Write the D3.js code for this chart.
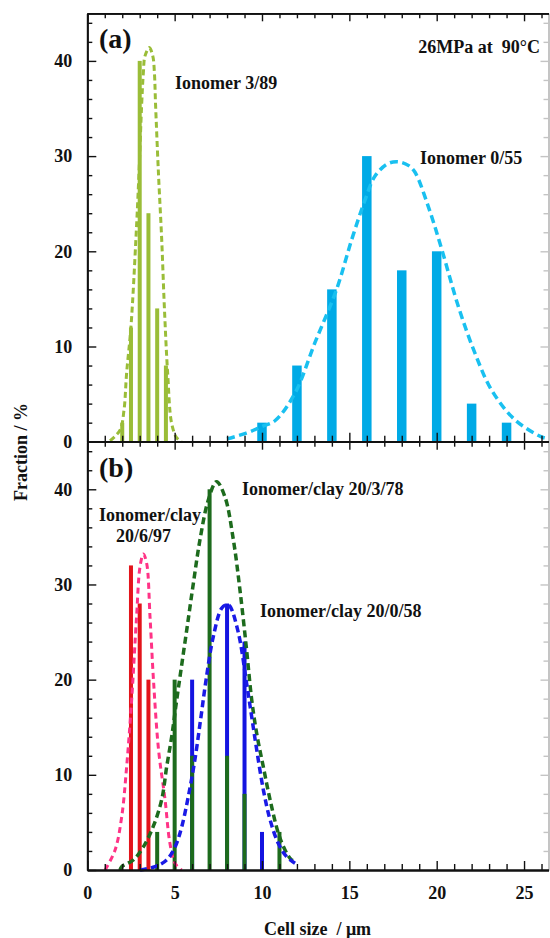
<!DOCTYPE html>
<html>
<head>
<meta charset="utf-8">
<script src="https://cdn.jsdelivr.net/npm/d3@7"></script>
<style>
	body { margin: 0; background: #fff; }
	svg text { font-family: "Liberation Serif", "Times New Roman", serif; font-weight: bold; }
</style>
</head>
<body>
<svg id="histograms" width="550" height="938"></svg>
<script>
// Data: cell size (um) -> fraction (%)

// (a) Ionomer 3/89
const ionomer_3_89_size = [2, 2.5, 3, 3.5, 4, 4.5];
const ionomer_3_89_frac = [2, 12, 40, 24, 14, 8];
const ionomer_3_89_fit = [[1.3, 0.1], [1.87, 1.2], [2.1, 3.3], [2.25, 7.2], [2.5, 12.1], [2.78, 21.2],
	[2.96, 28.3], [3.11, 35.3], [3.21, 38.8], [3.3, 40.5], [3.55, 41.4], [3.75, 40.5], [3.84, 38.8],
	[3.91, 35.3], [4.07, 28.3], [4.26, 21.2], [4.41, 14.2], [4.6, 7.2], [4.83, 1.9], [5.12, 0.4], [5.4, 0]];

// (a) Ionomer 0/55
const ionomer_0_55_size = [10, 12, 14, 16, 18, 20, 22, 24];
const ionomer_0_55_frac = [2, 8, 16, 30, 18, 20, 4, 2];
const ionomer_0_55_fit = [[8.0, 0.3], [9.1, 0.9], [10.0, 1.6], [10.74, 2.2], [11.89, 5.1], [13.03, 10.4],
	[14.27, 16.0], [15.13, 21.2], [15.9, 25.4], [16.47, 27.9], [17.2, 29.2], [17.8, 29.4], [18.4, 29.0],
	[18.76, 28.3], [19.52, 24.7], [20.29, 20.2], [21.24, 14.2], [22.19, 9.3], [23.15, 5.4], [24.48, 2.3],
	[26.0, 0.5], [26.4, 0.3]];

// (b) Ionomer/clay 20/6/97
const clay_20_6_97_size = [2.5, 3, 3.5];
const clay_20_6_97_frac = [32, 28, 20];
const clay_20_6_97_fit = [[1.02, 0], [1.59, 2.1], [1.97, 5.6], [2.25, 10.8], [2.54, 17.9], [2.82, 26.6],
	[3.02, 31.9], [3.21, 33.2], [3.4, 32.2], [3.59, 26.6], [3.8, 19.6], [4.08, 12.6], [4.45, 7.4],
	[4.73, 2.8], [5.02, 0.7], [5.4, 0]];

// (b) Ionomer/clay 20/3/78
const clay_20_3_78_size = [4, 5, 6, 7, 8, 9, 11];
const clay_20_3_78_frac = [4, 20, 12, 40, 12, 8, 4];
const clay_20_3_78_fit = [[1.87, 0], [1.97, 0.35], [2.63, 1.05], [3.2, 2.4], [3.78, 4.6], [4.26, 7.4],
	[4.54, 10.8], [4.83, 14.0], [5.12, 17.9], [5.69, 25.2], [6.07, 30.1], [6.45, 34.7], [6.93, 38.9],
	[7.4, 40.8], [7.88, 39.2], [8.36, 34.7], [8.74, 29.4], [9.12, 23.1], [9.41, 17.9], [9.7, 14.3],
	[10.08, 10.8], [10.46, 7.4], [10.93, 3.9], [11.32, 2.1], [11.7, 1.05], [11.89, 1.0]];

// (b) Ionomer/clay 20/0/58
const clay_20_0_58_size = [6, 8, 9, 10];
const clay_20_0_58_frac = [20, 28, 24, 4];
const clay_20_0_58_fit = [[3.02, 0], [3.88, 0.35], [4.54, 1.05], [5.02, 2.4], [5.4, 4.5], [5.78, 7.7],
	[6.16, 11.6], [6.5, 16], [6.8, 20], [7.21, 24.5], [7.69, 27.5], [8.0, 27.9], [8.17, 27.7], [8.65, 24.9],
	[9.12, 19.6], [9.41, 16.1], [9.7, 12.6], [10.08, 8.4], [10.46, 5.3], [10.93, 2.8], [11.41, 1.4],
	[11.89, 0.7]];

// Ticks
const x_ticks = [0, 5, 10, 15, 20, 25];
const y_ticks = [0, 10, 20, 30, 40];
const x_minor = [1, 2, 3, 4, 6, 7, 8, 9, 11, 12, 13, 14, 16, 17, 18, 19, 21, 22, 23, 24, 26];
const y_minor = [2, 4, 6, 8, 12, 14, 16, 18, 22, 24, 26, 28, 32, 34, 36, 38, 42, 44];

function whenDocumentLoaded(action) {
	if (document.readyState === "loading") {
		document.addEventListener("DOMContentLoaded", action);
	} else {
		action();
	}
}

class HistogramPanel {

	constructor(svg, x, y_top, y_bottom) {
		this.x = x;
		this.y = d3.scaleLinear()
			.domain([0, 45])
			.range([y_bottom, y_top]);
		this.svg = svg;
		this.plot_area = svg.append("g");
	}

	bars(sizes, fractions, color, width) {
		const data = sizes.map((s, i) => ({size: s, frac: fractions[i]}));
		this.plot_area.append("g")
			.selectAll("rect")
			.data(data)
			.enter()
			.append("rect")
				.attr("x", d => this.x(d.size) - width / 2)
				.attr("y", d => this.y(d.frac))
				.attr("width", width)
				.attr("height", d => this.y(0) - this.y(d.frac))
				.attr("fill", color);
	}

	fit(points, color, dash, stroke_width) {
		const line = d3.line()
			.x(d => this.x(d[0]))
			.y(d => this.y(d[1]))
			.curve(d3.curveCatmullRom);
		this.plot_area.append("path")
			.datum(points)
			.attr("d", line)
			.attr("fill", "none")
			.attr("stroke", color)
			.attr("stroke-width", stroke_width)
			.attr("stroke-dasharray", dash);
	}

	axes(show_x_labels) {
		const [x0, x1] = this.x.range();
		const [y0, y1] = this.y.range();
		const style = g => {
			g.attr("font-family", null).attr("font-size", 18);
			g.select(".domain").attr("stroke", "#111").attr("stroke-width", 1.8);
			g.selectAll(".tick line").attr("stroke", "#111").attr("stroke-width", 1.4);
			g.selectAll(".tick text").attr("fill", "#111");
		};
		const add = (axis, tx, ty, color) => {
			const g = this.svg.append("g")
				.attr("transform", `translate(${tx},${ty})`)
				.call(axis.tickSizeOuter(0));
			style(g);
			if (color) {
				g.selectAll("line, path").attr("stroke", color);
			}
		};

		// left
		add(d3.axisLeft(this.y).tickValues(y_ticks).tickSize(-9).tickPadding(15), x0, 0);
		add(d3.axisLeft(this.y).tickValues(y_minor).tickSize(-5).tickFormat(""), x0, 0);
		// right (sits at the cropped edge, faint)
		add(d3.axisRight(this.y).tickValues(y_ticks).tickSize(-8).tickFormat(""), x1, 0, "#c4c4c4");
		add(d3.axisRight(this.y).tickValues(y_minor).tickSize(-5).tickFormat(""), x1, 0, "#c4c4c4");
		// top
		add(d3.axisTop(this.x).tickValues(x_ticks).tickSize(-8).tickFormat(""), 0, y1);
		add(d3.axisTop(this.x).tickValues(x_minor).tickSize(-5).tickFormat(""), 0, y1);
		// bottom
		const major = d3.axisBottom(this.x).tickValues(x_ticks).tickSize(-9).tickPadding(16);
		if (!show_x_labels) major.tickFormat("");
		add(major, 0, y0);
		add(d3.axisBottom(this.x).tickValues(x_minor).tickSize(-6).tickFormat(""), 0, y0);
	}

	label(text, px, py, anchor = "start", size = 18) {
		this.svg.append("text")
			.attr("x", px)
			.attr("y", py)
			.attr("text-anchor", anchor)
			.attr("font-size", size)
			.attr("fill", "#111")
			.style("white-space", "pre")
			.text(text);
	}
}

whenDocumentLoaded(() => {

	const svg = d3.select("#histograms");

	const x = d3.scaleLinear()
		.domain([0, 26.4])
		.range([87.3, 548.5]);

	// (a) top panel
	const top = new HistogramPanel(svg, x, 13.3, 441.7);
	top.bars(ionomer_3_89_size, ionomer_3_89_frac, "#9abd38", 4);
	top.bars(ionomer_0_55_size, ionomer_0_55_frac, "#00aae6", 9.5);
	top.fit(ionomer_3_89_fit, "#9abd38", "6,3.5", 3);
	top.fit(ionomer_0_55_fit, "#19c0f0", "8,4.5", 3.5);
	top.axes(false);
	top.label("(a)", 99, 48, "start", 28);
	top.label("26MPa at  90°C", 540, 53, "end");
	top.label("Ionomer 3/89", 175, 89);
	top.label("Ionomer 0/55", 420, 164);

	// (b) bottom panel
	const bottom = new HistogramPanel(svg, x, 441.7, 870);
	bottom.bars(clay_20_6_97_size, clay_20_6_97_frac, "#e3141b", 4);
	bottom.bars(clay_20_0_58_size, clay_20_0_58_frac, "#1414e0", 4);
	bottom.bars(clay_20_3_78_size, clay_20_3_78_frac, "#1d6b1d", 4);
	bottom.fit(clay_20_6_97_fit, "#ff3386", "6,4", 3);
	bottom.fit(clay_20_3_78_fit, "#1d6b1d", "7,4", 3.5);
	bottom.fit(clay_20_0_58_fit, "#1a1ae6", "7,4", 3.5);
	bottom.axes(true);
	bottom.label("(b)", 99, 477, "start", 28);
	bottom.label("Ionomer/clay 20/3/78", 242, 495);
	bottom.label("Ionomer/clay 20/0/58", 260, 617);
	bottom.label("Ionomer/clay", 150, 521, "middle");
	bottom.label("20/6/97", 143.5, 542, "middle");

	// axis titles
	svg.append("text")
		.attr("transform", "translate(26.5,452) rotate(-90)")
		.attr("text-anchor", "middle")
		.attr("font-size", 18)
		.attr("fill", "#111")
		.text("Fraction / %");

	svg.append("text")
		.attr("x", 317.5)
		.attr("y", 935)
		.attr("text-anchor", "middle")
		.attr("font-size", 18)
		.attr("fill", "#111")
		.style("white-space", "pre")
		.text("Cell size  / μm");
});
</script>
</body>
</html>
